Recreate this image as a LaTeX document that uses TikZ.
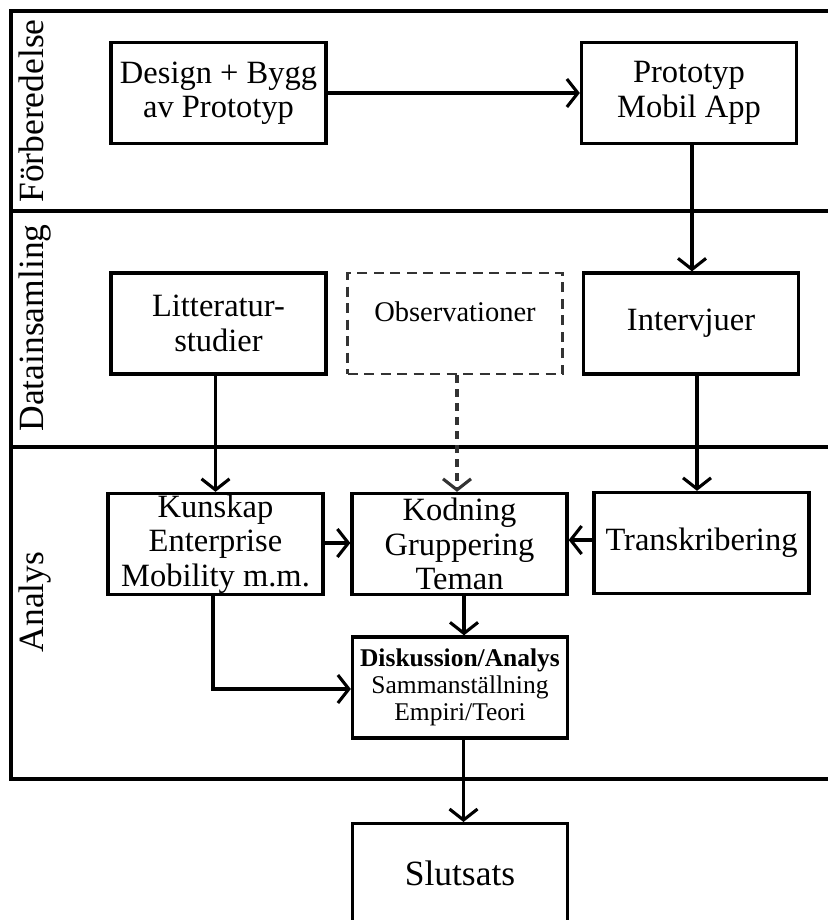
\documentclass[tikz,border=0pt]{standalone}
\usepackage{fontspec}
\setmainfont{Liberation Serif}
\usetikzlibrary{arrows.meta}
\begin{document}
\begin{tikzpicture}[x=1pt,y=-1pt,
  box/.style={draw, line width=3.3pt, inner sep=0pt, minimum width=215pt, minimum height=101pt, align=center, font=\fontsize{32.5}{34.5}\selectfont},
  dbox/.style={box, draw=black!80, line width=2.8pt, dash pattern=on 10pt off 6.5pt},
  arr/.style={line width=3.1pt, -{Straight Barb[length=11pt,width=28pt]}},
  darr/.style={arr, draw=black!80, dash pattern=on 8pt off 6pt},
  lane/.style={line width=3.3pt},
  lanelabel/.style={rotate=90, anchor=base, inner sep=0pt, font=\fontsize{35.5}{40}\selectfont}]
\useasboundingbox (0,0) rectangle (827,920);

% swimlane frame
\draw[lane] (835,11) -- (11,11) -- (11,779) -- (835,779);
\draw[lane] (11,211) -- (835,211);
\draw[lane] (11,447) -- (835,447);

\node[lanelabel] (l1) at (43,111) {Förberedelse};
\node[lanelabel] (l2) at (43,328) {Datainsamling};
\node[lanelabel] (l3) at (43,602) {Analys};

% nodes
\node[box] (design) at (218.5,93) {Design + Bygg\\av Prototyp};
\node[box] (proto) at (689,93) {Prototyp\\Mobil App};
\node[box] (litt) at (218.5,323.5) {Litteratur-\\studier};
\node[dbox, font=\fontsize{28.5}{32}\selectfont] (obs) at (455,323.5) {\raisebox{24pt}{Observationer}};
\node[box] (interv) at (691,323.5) {Intervjuer};
\node[box] (kunskap) at (215.5,544) {Kunskap\\Enterprise\\Mobility m.m.};
\node[box] (kodning) at (459.5,544) {Kodning\\Gruppering\\Teman};
\node[box] (trans) at (701.5,543) {\raisebox{8pt}{Transkribering}};
\node[box, font=\fontsize{25.5}{27}\selectfont] (disk) at (460,687.5) {\textbf{Diskussion/Analys}\\Sammanställning\\Empiri/Teori};
\node[draw, line width=3.3pt, inner ysep=0pt, inner xsep=0pt, minimum width=215pt, text height=62pt, text depth=100pt, anchor=north, font=\fontsize{35.5}{40}\selectfont] (slut) at (460,822) {Slutsats};

% connectors
\draw[arr] (design) -- (proto);
\draw[arr] ([xshift=3pt]proto.south) -- ([xshift=3pt]proto.south |- interv.north);
\draw[arr] ([xshift=-3pt]litt.south) -- ([xshift=-3pt]litt.south |- kunskap.north);
\draw[darr] ([xshift=2pt]obs.south) -- ([xshift=2pt]obs.south |- kodning.north);
\draw[arr] ([xshift=6pt]interv.south) -- ([xshift=6pt]interv.south |- trans.north);
\draw[arr] ([yshift=1pt]kunskap.east) -- ([yshift=1pt]kodning.west);
\draw[arr] ([yshift=3pt]trans.west) -- ([yshift=3pt]trans.west -| kodning.east);
\draw[arr] ([xshift=4.5pt]kodning.south) -- ([xshift=4.5pt]kodning.south |- disk.north);
\draw[arr] ([xshift=-2.5pt]kunskap.south) |- ([yshift=-1.5pt]disk.west);
\draw[arr] ([xshift=3.5pt]disk.south) -- ([xshift=3.5pt]disk.south |- slut.north);
\end{tikzpicture}
\end{document}
